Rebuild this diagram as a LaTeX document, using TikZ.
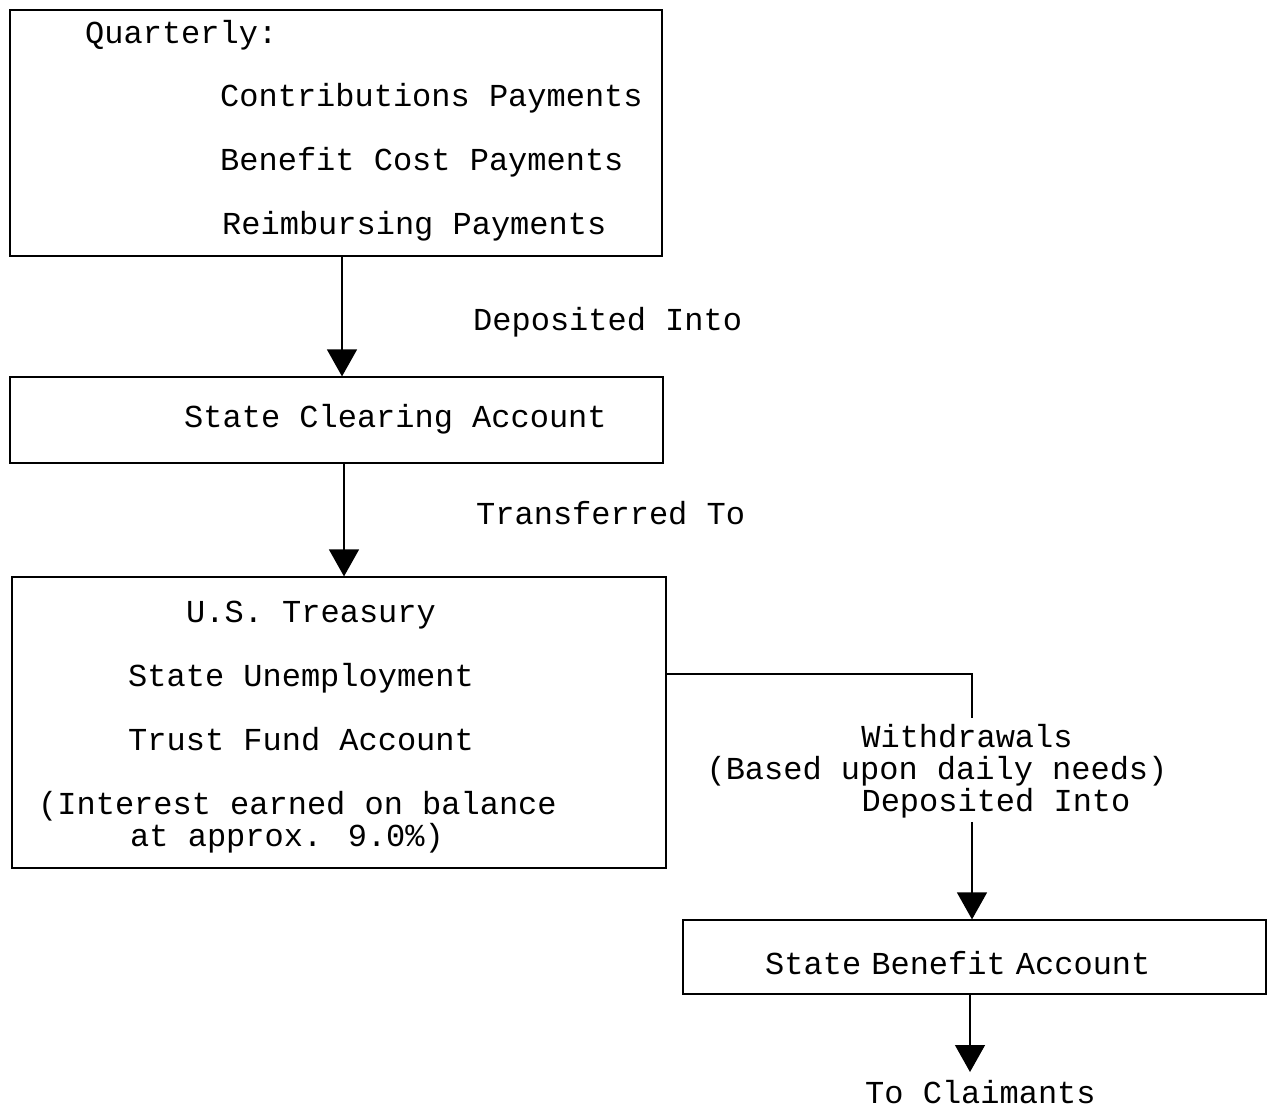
\documentclass[tikz,border=0pt]{standalone}
\usepackage{fontspec}
\newfontfamily\cour{Liberation Mono}
\usetikzlibrary{arrows.meta}
\tikzset{
  box/.style={draw, line width=1.2pt, inner sep=0pt},
  lbl/.style={font=\cour\fontsize{32}{36}\selectfont, inner sep=0pt, anchor=base west},
  clbl/.style={font=\cour\fontsize{32}{36}\selectfont, inner xsep=0pt, inner ysep=0pt, anchor=base},
  arr/.style={line width=1.3pt, -{Triangle[width=30pt,length=27pt]}},
  conn/.style={line width=1.3pt},
}
\begin{document}
\begin{tikzpicture}[x=1pt,y=-1pt]
\useasboundingbox (0,0) rectangle (1274,1108);
% boxes
\node[box, minimum width=652pt, minimum height=246pt] (b1) at (336,133) {};
\node[box, minimum width=653pt, minimum height=86pt] (b2) at (336.5,420) {};
\node[box, minimum width=654pt, minimum height=291pt] (b3) at (339,722.5) {};
\node[box, minimum width=583pt, minimum height=74pt] (b4) at (974.5,957) {};
% box texts
\node[lbl] (t1) at (85,44) {Quarterly:};
\node[lbl] (t2) at (220,106) {Contributions Payments};
\node[lbl] (t3) at (220,170) {Benefit Cost Payments};
\node[lbl] (t4) at (222,234) {Reimbursing Payments};
\node[lbl] (t5) at (184,427) {State Clearing Account};
\node[lbl] (t6) at (186,622) {U.S. Treasury};
\node[lbl] (t7) at (128,686) {State Unemployment};
\node[lbl] (t8) at (128,750) {Trust Fund Account};
\node[lbl] (t9) at (38,814) {(Interest earned on balance};
\node[lbl] (t10) at (130,846) {at approx. 9.0\%)};
\node[lbl] (t11) at (765,974) {State\hspace{-9pt} Benefit\hspace{-9pt} Account};
% connector labels
\node[lbl] (l1) at (473,330) {Deposited Into};
\node[lbl] (l2) at (476,524) {Transferred To};
\node[clbl] (l3) at (967,747) {Withdrawals};
\node[clbl] (l4) at (937,779) {(Based upon daily needs)};
\node[clbl] (l5) at (996,811) {Deposited Into};
\node[lbl] (l6) at (865,1103) {To Claimants};
% connectors
\coordinate (c1) at (342,0);
\coordinate (c2) at (344,0);
\coordinate (c3) at (0,674);
\coordinate (c4) at (972,0);
\coordinate (c5) at (970,0);
\coordinate (end) at (970,1072);
\draw[arr] (b1.south -| c1) -- (b2.north -| c1);
\draw[arr] (b2.south -| c2) -- (b3.north -| c2);
\draw[conn] (b3.east |- c3) -| ([yshift=6pt]l3.north -| c4);
\draw[arr] ([yshift=-4pt]l5.south -| c4) -- (b4.north -| c4);
\draw[arr] (b4.south -| c5) -- (end);
\end{tikzpicture}
\end{document}
